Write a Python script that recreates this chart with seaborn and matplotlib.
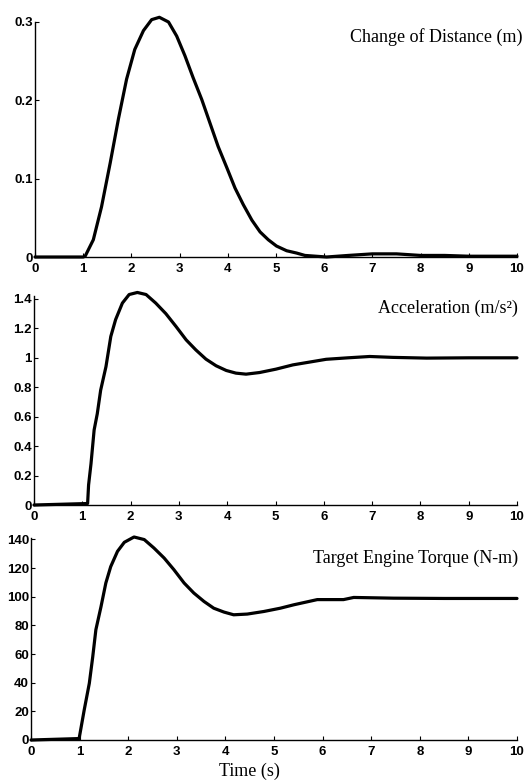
import numpy as np
import pandas as pd
import matplotlib
matplotlib.use("Agg")
import matplotlib.pyplot as plt
import seaborn as sns

# ---- data ----
dist_t = [0, 1.0, 1.04, 1.21, 1.38, 1.56, 1.73, 1.90, 2.07, 2.25, 2.42, 2.58, 2.77,
          2.94, 3.11, 3.28, 3.46, 3.63, 3.80, 3.98, 4.15, 4.32, 4.50, 4.67, 4.84,
          5.01, 5.22, 5.43, 5.6, 6.05, 6.5, 7.0, 7.5, 8.0, 8.5, 9.0, 10.0]
dist_v = [0, 0, 0.001, 0.022, 0.064, 0.12, 0.176, 0.227, 0.265, 0.289, 0.303, 0.306, 0.30,
          0.282, 0.257, 0.229, 0.201, 0.171, 0.141, 0.114, 0.088, 0.067, 0.047, 0.032, 0.022,
          0.014, 0.008, 0.005, 0.002, 0.0, 0.002, 0.004, 0.004, 0.002, 0.002, 0.001, 0.001]

acc_t = [0, 1.11, 1.13, 1.18, 1.245, 1.31, 1.38, 1.49, 1.59, 1.69, 1.83, 1.97, 2.14,
         2.32, 2.52, 2.73, 2.94, 3.15, 3.35, 3.56, 3.77, 3.98, 4.18, 4.39, 4.67, 5.01,
         5.36, 6.05, 6.5, 6.95, 7.43, 8.13, 9.0, 10.0]
acc_v = [0, 0.01, 0.136, 0.28, 0.51, 0.62, 0.78, 0.94, 1.145, 1.26, 1.372, 1.43, 1.444,
         1.43, 1.372, 1.30, 1.213, 1.122, 1.054, 0.991, 0.946, 0.914, 0.896, 0.889, 0.90, 0.923,
         0.952, 0.99, 1.0, 1.009, 1.003, 0.998, 1.0, 1.0]

torq_t = [0, 0.99, 1.095, 1.2, 1.27, 1.335, 1.44, 1.54, 1.64, 1.78, 1.92, 2.12, 2.33,
          2.53, 2.74, 2.94, 3.15, 3.35, 3.56, 3.76, 3.97, 4.17, 4.45, 4.79, 5.13, 5.41,
          5.89, 6.43, 6.64, 7.46, 8.5, 10.0]
torq_v = [0, 1, 21, 39.6, 58, 77, 93, 109.6, 121, 131.7, 138, 141.7, 139.9,
          134, 127, 118.9, 109.6, 102.6, 96.7, 92, 89.3, 87.4, 87.9, 89.7, 92, 94.4,
          98, 98, 99.5, 99, 98.8, 98.8]

titles = ["Change of Distance (m)", "Acceleration (m/s\u00b2)", "Target Engine Torque (N-m)"]
y_ticks = [[0, 0.1, 0.2, 0.3],
           [0, 0.2, 0.4, 0.6, 0.8, 1, 1.2, 1.4],
           [0, 20, 40, 60, 80, 100, 120, 140]]
y_ticklabels = [["0", "0.1", "0.2", "0.3"],
                ["0", "0.2", "0.4", "0.6", "0.8", "1", "1.2", "1.4"],
                ["0", "20", "40", "60", "80", "100", "120", "140"]]
x_ticks = list(range(0, 11))
x_label = "Time (s)"

# ---- figure ----
sns.set_style("ticks")
W, H = 527, 781
fig = plt.figure(figsize=(W / 100, H / 100), dpi=100)

# axes boxes in pixels: left, right, bottom(y px), top(y px)
boxes = [(35, 517, 257, 22), (34, 517, 505, 296), (31, 517, 740, 538)]
ylims = [(0, 0.3), (0, 1.42), (0, 141)]
datas = [(dist_t, dist_v), (acc_t, acc_v), (torq_t, torq_v)]
title_pos = [(523, 37), (518, 308), (518, 558)]   # right end x, centre y (pixels)

tick_font = dict(family=["Liberation Sans", "DejaVu Sans"], weight="bold", size=9.5)
serif = ["Liberation Serif", "DejaVu Serif"]

for i, ((l, r, b, t), ylim, (tt, vv)) in enumerate(zip(boxes, ylims, datas)):
    ax = fig.add_axes([l / W, 1 - b / H, (r - l) / W, (b - t) / H])
    df = pd.DataFrame({"t": tt, "v": vv})
    sns.lineplot(data=df, x="t", y="v", ax=ax, color="black", linewidth=2.3,
                 clip_on=False, sort=False)
    ax.set_xlim(0, 10)
    ax.set_ylim(*ylim)
    ax.set_xticks(x_ticks)
    ax.set_xticklabels([str(x) for x in x_ticks], fontdict=tick_font)
    ax.set_yticks(y_ticks[i])
    ax.set_yticklabels(y_ticklabels[i], fontdict=tick_font)
    ax.tick_params(direction="in", length=3, width=0.8, pad=1.5, colors="black")
    ax.tick_params(axis="x", pad=4)
    for s in ["top", "right"]:
        ax.spines[s].set_visible(False)
    for s in ["left", "bottom"]:
        ax.spines[s].set_linewidth(1.0)
        ax.spines[s].set_color("black")
    ax.set_xlabel("")
    ax.set_ylabel("")
    ax.patch.set_alpha(0)
    tx, ty = title_pos[i]
    fig.text(tx / W, 1 - ty / H, titles[i], ha="right", va="center",
             family=serif, fontsize=13, color="black")

fig.text(249 / W, 1 - 771 / H, x_label, ha="center", va="center",
         family=serif, fontsize=13, color="black")

fig.savefig("out.png", dpi=100)
